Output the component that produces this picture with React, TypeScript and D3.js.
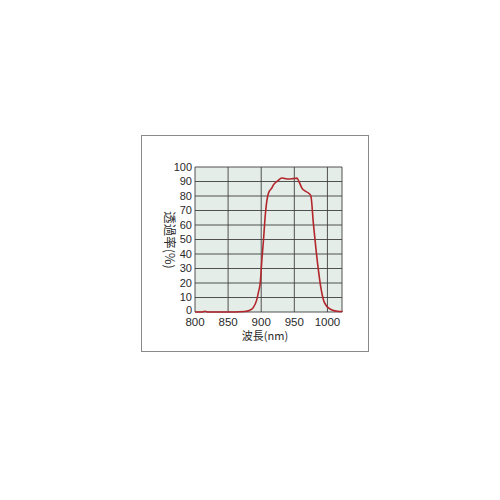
import * as d3 from "d3";
import { useEffect, useRef } from "react";

const wavelengths = [800, 810, 815, 820, 860, 875, 882, 888, 893, 896, 898.5, 901, 903.5, 906, 908.6, 911, 916, 919, 925, 931, 936, 942, 948, 954, 957, 961.7, 966, 971.7, 975, 978.8, 983, 987, 990, 994, 998, 1002, 1008, 1015, 1023];
const transmittance = [0, 0, 0.5, 0, 0, 0.3, 1, 3, 8, 14, 20, 36, 50, 66, 77, 82, 85.5, 88, 90.5, 92.4, 92, 91.7, 92, 92.3, 90, 85.3, 83.5, 81.9, 80, 61, 42, 26.7, 17, 8.3, 4.5, 2.7, 1.2, 0.5, 0.3];
const xTicks = [800, 850, 900, 950, 1000];
const yTicks = [0, 10, 20, 30, 40, 50, 60, 70, 80, 90, 100];

const App = () => {
  const ref = useRef<SVGSVGElement>(null);

  useEffect(() => {
    const svg = d3.select(ref.current);
    const left = 195;
    const right = 342;
    const top = 167;
    const bottom = 312;

    const x = d3.scaleLinear().domain([800, 1022]).range([left, right]);
    const y = d3.scaleLinear().domain([0, 100]).range([bottom, top]);

    // outer frame
    svg.append("rect")
      .attr("x", 141.5).attr("y", 135.5)
      .attr("width", 227).attr("height", 216)
      .attr("fill", "#fff").attr("stroke", "#8a8a8a").attr("stroke-width", 1);

    svg.append("rect")
      .attr("x", left).attr("y", top)
      .attr("width", right - left).attr("height", bottom - top)
      .attr("fill", "#e4ede8");

    const grid = svg.append("g").attr("stroke", "#3f3f3f").attr("stroke-width", 0.9);
    grid.selectAll("line.h").data(yTicks).join("line")
      .attr("class", "h")
      .attr("x1", left).attr("x2", right)
      .attr("y1", (d) => y(d)).attr("y2", (d) => y(d));
    grid.selectAll("line.v").data(xTicks).join("line")
      .attr("class", "v")
      .attr("x1", (d) => x(d)).attr("x2", (d) => x(d))
      .attr("y1", top).attr("y2", bottom);
    grid.append("line")
      .attr("x1", right).attr("x2", right).attr("y1", top).attr("y2", bottom);

    const line = d3.line<number>()
      .x((d, i) => x(wavelengths[i]))
      .y((d) => y(d))
      .curve(d3.curveMonotoneX);

    svg.append("path")
      .datum(transmittance)
      .attr("d", line)
      .attr("fill", "none")
      .attr("stroke", "#b3262b")
      .attr("stroke-width", 1.6);

    const font = "'Liberation Sans', Arial, sans-serif";

    svg.append("g").selectAll("text").data(yTicks).join("text")
      .attr("x", left - 3)
      .attr("y", (d) => (d === 0 ? y(d) + 1.5 : y(d) + 3.5))
      .attr("text-anchor", "end")
      .attr("font-family", font)
      .attr("font-size", 11)
      .attr("fill", "#2a2a2a")
      .text((d) => d);

    svg.append("g").selectAll("text").data(xTicks).join("text")
      .attr("x", (d) => x(d))
      .attr("y", bottom + 14)
      .attr("text-anchor", "middle")
      .attr("font-family", font)
      .attr("font-size", 11.5)
      .attr("fill", "#2a2a2a")
      .text((d) => d);

    svg.append("text")
      .attr("x", 265).attr("y", 340)
      .attr("text-anchor", "middle")
      .attr("font-family", "'Noto Sans CJK JP', sans-serif")
      .attr("font-size", 11)
      .attr("fill", "#2a2a2a")
      .text("波長(nm)");

    svg.append("text")
      .attr("transform", "translate(165,240) rotate(90)")
      .attr("text-anchor", "middle")
      .attr("font-family", "'Noto Sans CJK JP', sans-serif")
      .attr("font-size", 12.5)
      .attr("fill", "#2a2a2a")
      .text("透過率(%)");

    return () => {
      svg.selectAll("*").remove();
    };
  }, []);

  return (
    <svg
      ref={ref}
      width={500}
      height={500}
      style={{ position: "absolute", left: 0, top: 0, background: "#fff" }}
    ></svg>
  );
};

export default App;
